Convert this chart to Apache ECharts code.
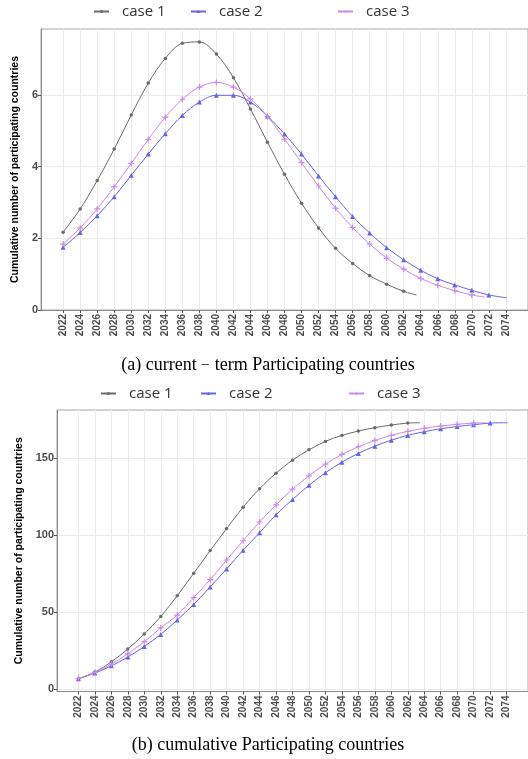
<!DOCTYPE html>
<html>
<head>
<meta charset="utf-8">
<script src="https://cdn.jsdelivr.net/npm/echarts@6/dist/echarts.min.js"></script>
<style>
html,body{margin:0;padding:0;background:#fff;}
#c{width:528px;height:759px;}
</style>
</head>
<body>
<div id="c"></div>
<script>
// ---- data ----
const tickYears = [2022,2024,2026,2028,2030,2032,2034,2036,2038,2040,2042,2044,2046,2048,2050,2052,2054,2056,2058,2060,2062,2064,2066,2068,2070,2072,2074];
const yTicksA = [0, 2, 4, 6];
const yTicksB = [0, 50, 100, 150];
const seriesNames = ['case 1','case 2','case 3'];

const case1Years = [2022,2024,2026,2028,2030,2032,2034,2036,2038,2040,2042,2044,2046,2048,2050,2052,2054,2056,2058,2060,2062];
const case2Years = [2022,2024,2026,2028,2030,2032,2034,2036,2038,2040,2042,2044,2046,2048,2050,2052,2054,2056,2058,2060,2062,2064,2066,2068,2070,2072];
const case3Years = [2022,2024,2026,2028,2030,2032,2034,2036,2038,2040,2042,2044,2046,2048,2050,2052,2054,2056,2058,2060,2062,2064,2066,2068,2070];

// (a) current-term participating countries
const case1Current = [2.17,2.82,3.61,4.49,5.44,6.33,7.02,7.44,7.48,7.14,6.48,5.61,4.68,3.79,2.98,2.29,1.72,1.30,0.96,0.72,0.52];
const case2Current = [1.75,2.16,2.63,3.16,3.76,4.35,4.92,5.43,5.80,5.99,5.99,5.80,5.41,4.91,4.35,3.74,3.16,2.61,2.15,1.74,1.40,1.11,0.87,0.70,0.55,0.42];
const case3Current = [1.84,2.29,2.82,3.44,4.09,4.76,5.38,5.88,6.22,6.35,6.22,5.89,5.40,4.77,4.11,3.46,2.84,2.30,1.84,1.45,1.14,0.88,0.69,0.54,0.42];
// line end points (no marker)
const endYears = [2063.5, 2074.1, 2071.5];
const endCurrent = [0.42, 0.34, 0.36];

// (b) cumulative participating countries
const case1Cum = [6.6,10.9,17.6,25.9,35.7,47.1,60.6,75.1,89.9,104.2,118.1,130.1,140.2,148.7,155.4,160.9,164.8,167.6,169.8,171.5,172.8];
const case2Cum = [6.6,10.3,15.0,20.7,27.6,35.4,44.8,54.9,66.3,78.0,90.1,101.5,113.2,123.1,132.3,140.5,147.4,153.1,157.8,161.7,164.8,167.2,169.1,170.6,171.7,172.8];
const case3Cum = [6.6,10.7,16.1,22.8,30.7,39.6,48.0,59.3,71.0,83.8,96.3,108.5,119.6,129.8,138.5,146.1,152.4,157.4,161.5,164.8,167.4,169.4,170.9,172.0,172.8];
const endCum = [173.0, 173.0, 173.0];

const captionA = '(a) current\uFE63term Participating countries';
const captionB = '(b) cumulative Participating countries';
const yTitle = 'Cumulative number of participating countries';

// ---- styles ----
const colors = ['#6b6b6b', '#6464e6', '#c98ae8'];
const plusPath = 'path://M4,0h2v4h4v2h-4v4h-2v-4h-4v-2h4z';
const symbols = ['circle', 'triangle', plusPath];
const symbolSizes = [3.5, 5, 6];

function buildData(years, vals, endX, endY) {
  const d = years.map((y, i) => [y, vals[i]]);
  d.push({ value: [endX, endY], symbol: 'none' });
  return d;
}

function mkSeries(idx, years, vals, endX, endY, axisIdx) {
  return {
    name: seriesNames[idx],
    type: 'line',
    xAxisIndex: axisIdx,
    yAxisIndex: axisIdx,
    data: buildData(years, vals, endX, endY),
    smooth: 0.35,
    symbol: symbols[idx],
    symbolSize: symbolSizes[idx],
    showAllSymbol: true,
    color: colors[idx],
    lineStyle: { width: 1, color: colors[idx] },
    itemStyle: { color: colors[idx] },
    emphasis: { disabled: true },
    z: 3 + idx
  };
}

const xAxisCommon = {
  type: 'value',
  min: 2019.4,
  max: 2076.6,
  interval: 2,
  axisLine: { show: true, onZero: false, lineStyle: { color: '#8c8c8c', width: 1 } },
  axisTick: { show: true, length: 3, customValues: tickYears, lineStyle: { color: '#555' } },
  axisLabel: {
    customValues: tickYears,
    rotate: 90, margin: 4,
    fontFamily: 'Liberation Sans', fontWeight: 'bold', fontSize: 10, color: '#4d4d4d',
    formatter: v => String(v)
  },
  splitLine: { show: true, lineStyle: { color: '#ebebeb', width: 1 } }
};

function yAxis(min, max, ticks, gap) {
  return {
    type: 'value', min: min, max: max,
    name: yTitle, nameLocation: 'middle', nameRotate: 90, nameGap: gap,
    nameTextStyle: { fontFamily: '"Liberation Sans Narrow", "Liberation Sans"', fontWeight: 'bold', fontSize: 10.5, color: '#000' },
    axisLine: { show: true, onZero: false, lineStyle: { color: '#8c8c8c', width: 1 } },
    axisTick: { show: true, length: 3, customValues: ticks, lineStyle: { color: '#555' } },
    axisLabel: {
      customValues: ticks,
      fontFamily: 'Liberation Sans', fontWeight: 'bold', fontSize: 11, color: '#4d4d4d', margin: 3,
      formatter: v => String(v)
    },
    splitLine: { show: true, lineStyle: { color: '#ebebeb', width: 1 } }
  };
}

function legend(name, left, top) {
  return {
    data: [name], left: left, top: top, padding: 0,
    itemWidth: 15, itemHeight: 4,
    selectedMode: false,
    textStyle: { fontFamily: 'Open Sans', fontSize: 15, color: '#333', padding: [0, 0, 0, 8] }
  };
}

const option = {
  animation: false,
  backgroundColor: '#fff',
  grid: [
    { left: 41, top: 29, right: 0, height: 281, show: true, borderColor: '#a6a6a6', borderWidth: 1, containLabel: false },
    { left: 57, top: 410, right: 0, height: 281.5, show: true, borderColor: '#a6a6a6', borderWidth: 1, containLabel: false }
  ],
  legend: [
    legend('case 1', 93, 4), legend('case 2', 190, 4), legend('case 3', 337, 4),
    legend('case 1', 100, 386), legend('case 2', 200, 386), legend('case 3', 348, 386)
  ],
  xAxis: [
    Object.assign({ gridIndex: 0 }, xAxisCommon),
    Object.assign({ gridIndex: 1 }, xAxisCommon)
  ],
  yAxis: [
    Object.assign({ gridIndex: 0 }, yAxis(0, 7.84, yTicksA, 20)),
    Object.assign({ gridIndex: 1 }, yAxis(-1.7, 181.3, yTicksB, 30))
  ],
  series: [
    mkSeries(0, case1Years, case1Current, endYears[0], endCurrent[0], 0),
    mkSeries(1, case2Years, case2Current, endYears[1], endCurrent[1], 0),
    mkSeries(2, case3Years, case3Current, endYears[2], endCurrent[2], 0),
    mkSeries(0, case1Years, case1Cum, endYears[0], endCum[0], 1),
    mkSeries(1, case2Years, case2Cum, endYears[1], endCum[1], 1),
    mkSeries(2, case3Years, case3Cum, endYears[2], endCum[2], 1)
  ],
  graphic: [
    { type: 'text', x: 268, y: 365, style: { text: captionA, font: '18px "Liberation Serif"', fill: '#000', align: 'center', verticalAlign: 'middle' } },
    { type: 'text', x: 268, y: 745, style: { text: captionB, font: '18px "Liberation Serif"', fill: '#000', align: 'center', verticalAlign: 'middle' } }
  ]
};

const chart = echarts.init(document.getElementById('c'), null, { renderer: 'canvas' });
chart.setOption(option);
</script>
</body>
</html>
